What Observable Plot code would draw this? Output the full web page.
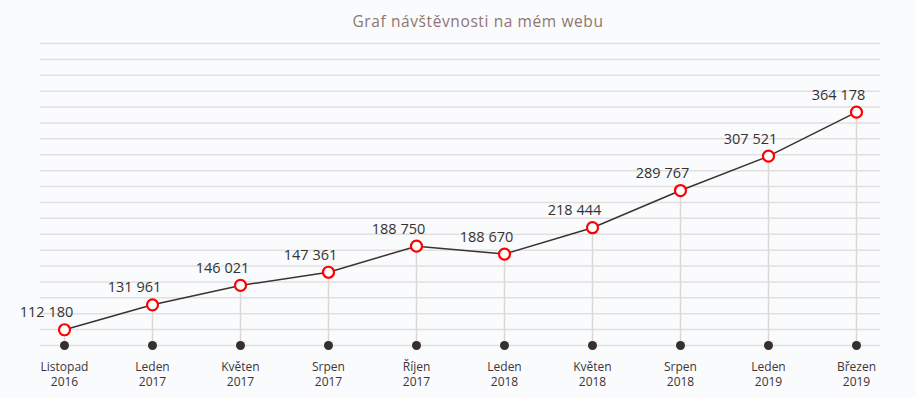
<!DOCTYPE html>
<html>
<head>
<meta charset="utf-8">
<script src="https://cdn.jsdelivr.net/npm/d3@7"></script>
<script src="https://cdn.jsdelivr.net/npm/@observablehq/plot@0.6"></script>
<style>
  html, body { margin: 0; padding: 0; background: #fafbfd; }
  #wrap { position: relative; width: 916px; height: 398px; overflow: hidden; }
  #title {
    position: absolute; top: 10px; left: 40px; width: 876px; text-align: center;
    font-family: "Open Sans", sans-serif; font-size: 15.5px; letter-spacing: 0.6px;
    color: #8d7672;
  }
  #chart { position: absolute; top: 0; left: 0; }
</style>
</head>
<body>
<div id="wrap">
  <div id="title">Graf návštěvnosti na mém webu</div>
  <div id="chart"></div>
</div>
<script>
// Categories (month, year)
const months = ["Listopad", "Leden", "Květen", "Srpen", "Říjen", "Leden", "Květen", "Srpen", "Leden", "Březen"];
const years  = ["2016", "2017", "2017", "2017", "2017", "2018", "2018", "2018", "2019", "2019"];
// Visitor counts shown as labels
const visits = [112180, 131961, 146021, 147361, 188750, 188670, 218444, 289767, 307521, 364178];
// Vertical level of each point, in grid steps above the baseline (as drawn in the reference)
const levels = [0.99, 2.56, 3.78, 4.61, 6.25, 5.75, 7.41, 9.75, 11.91, 14.68];
// Horizontal grid steps
const gridSteps = d3.range(0, 20);

const keys = months.map((m, i) => `${m} ${years[i]}`);
const data = keys.map((k, i) => ({key: k, month: months[i], year: years[i], visits: visits[i], level: levels[i]}));
const fmt = v => d3.format(",")(v).replace(/,/g, " ");

const chart = Plot.plot({
  width: 916,
  height: 398,
  marginTop: 43,
  marginBottom: 53,
  marginLeft: 40,
  marginRight: 36,
  style: {background: "transparent", fontFamily: "'Open Sans', sans-serif"},
  x: {type: "point", domain: keys, padding: 0.25, axis: null},
  y: {domain: [0, 19], axis: null},
  marks: [
    Plot.ruleY(gridSteps, {stroke: "#e4dfdf", strokeWidth: 1.5}),
    Plot.ruleX(data, {x: "key", y1: 0, y2: "level", stroke: "#ddd6d6", strokeWidth: 1.5}),
    Plot.dot(data, {x: "key", y: 0, r: 4.5, fill: "#342e2f", stroke: "none"}),
    Plot.line(data, {x: "key", y: "level", stroke: "#3a3233", strokeWidth: 1.5}),
    Plot.dot(data, {x: "key", y: "level", r: 5.5, fill: "white", stroke: "#ff0000", strokeWidth: 2.2}),
    Plot.text(data, {x: "key", y: "level", text: d => fmt(d.visits), dx: -18, dy: -17,
      fontSize: 14.5, fill: "#333", letterSpacing: "0.4px"}),
    Plot.text(data, {x: "key", frameAnchor: "bottom", text: "month", dy: 25,
      fontSize: 12, fill: "#3b3536", letterSpacing: "0.4px"}),
    Plot.text(data, {x: "key", frameAnchor: "bottom", text: "year", dy: 40,
      fontSize: 12, fill: "#3b3536", letterSpacing: "0.4px"})
  ]
});
document.getElementById("chart").appendChild(chart);
</script>
</body>
</html>
